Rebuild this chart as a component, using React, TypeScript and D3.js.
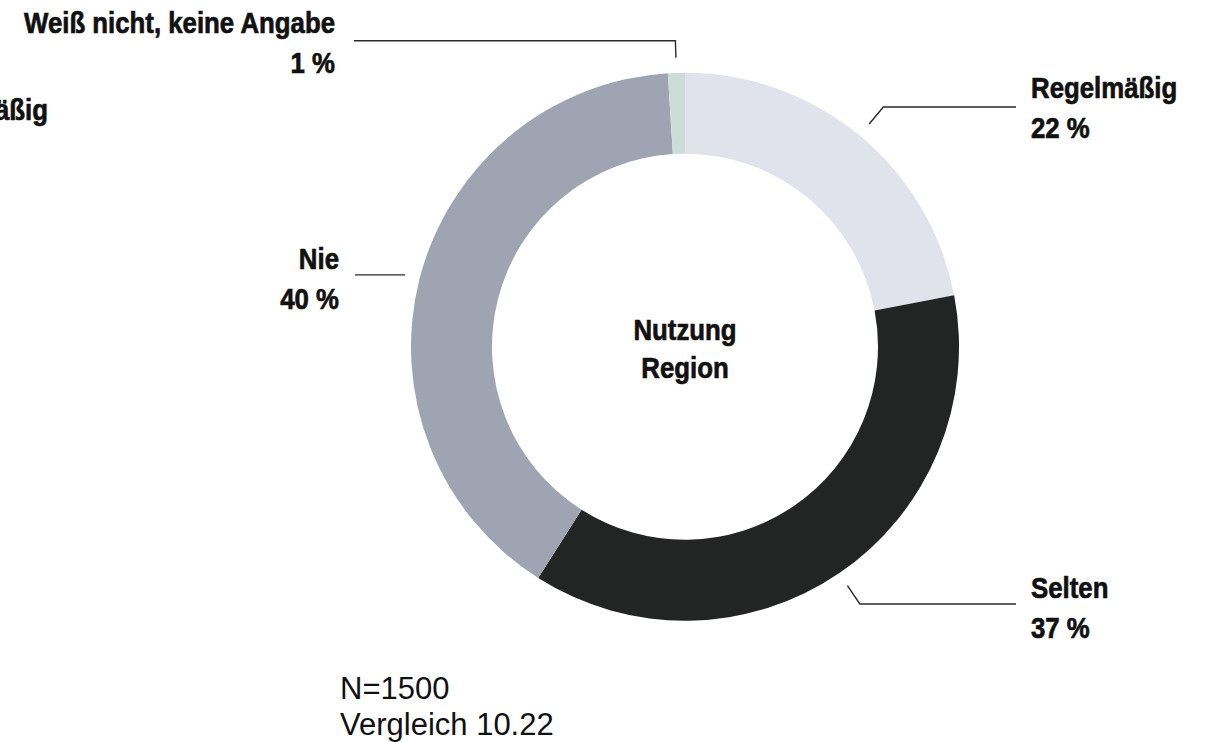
import React from "react";
import * as d3 from "d3";

// ---- data ----
const categories = ["Regelmäßig", "Selten", "Nie", "Weiß nicht, keine Angabe"];
const values = [22, 37, 40, 1];
const valueLabels = ["22 %", "37 %", "40 %", "1 %"];
const centerTitle = ["Nutzung", "Region"];
const footnotes = ["N=1500", "Vergleich 10.22"];
const clippedLabel = "Regelmäßig";

// ---- styles / layout ----
const colors = ["#e0e2ec", "#232524", "#9ea4b2", "#cddcd9"];
const W = 1207;
const H = 742;
const cx = 685;
const cy = 346.7;
const outerR = 274;
const innerR = 193;
const boldFont = "'Liberation Sans', Arial, sans-serif";
const squeeze = 0.86;
// per-label layout: leader line y, leader end x, text anchor x, first baseline, side
const labelLayout = [
  { lineY: 107, endX: 1016, tx: 1031, ty: 98, anchor: "start" },
  { lineY: 604, endX: 1016, tx: 1031, ty: 598, anchor: "start" },
  { lineY: null, endX: 355, tx: 339, ty: 269, anchor: "end" },
  { lineY: 40.7, endX: 354, tx: 335, ty: 33, anchor: "end" },
];
const lineGap = 40;

function BoldText({ x, y, anchor, children, size = 30 }: any) {
  return (
    <text
      transform={`translate(${x},${y}) scale(${squeeze},1)`}
      textAnchor={anchor}
      fontFamily={boldFont}
      fontWeight="bold"
      fontSize={size}
      fill="#111"
      stroke="#111"
      strokeWidth={0.7}
    >
      {children}
    </text>
  );
}

export default function App() {
  const pie = d3
    .pie<number>()
    .sort(null)
    .value((d) => d)
    .startAngle(0)
    .endAngle(2 * Math.PI);
  const arcs = pie(values);
  const arcGen = d3.arc<d3.PieArcDatum<number>>().innerRadius(innerR).outerRadius(outerR);

  const leaders = arcs.map((a, i) => {
    const mid = (a.startAngle + a.endAngle) / 2;
    const r0 = outerR + 15;
    const sx = cx + r0 * Math.sin(mid);
    const sy = cy - r0 * Math.cos(mid);
    const L = labelLayout[i];
    const path = d3.path();
    path.moveTo(sx, sy);
    if (L.lineY == null) {
      path.lineTo(L.endX, sy);
    } else {
      const t = (cy - L.lineY) / Math.cos(mid);
      const ex = cx + t * Math.sin(mid);
      path.lineTo(ex, L.lineY);
      path.lineTo(L.endX, L.lineY);
    }
    return path.toString();
  });

  return (
    <svg
      width={W}
      height={H}
      style={{ position: "absolute", left: 0, top: 0, background: "#fff" }}
    >
      <g transform={`translate(${cx},${cy})`}>
        {arcs.map((a, i) => (
          <path key={i} d={arcGen(a) || ""} fill={colors[i]} />
        ))}
      </g>
      {leaders.map((d, i) => (
        <path key={i} d={d} fill="none" stroke="#2a2a2a" strokeWidth={1.4} />
      ))}
      {categories.map((c, i) => {
        const L = labelLayout[i];
        return (
          <g key={c}>
            <BoldText x={L.tx} y={L.ty} anchor={L.anchor}>
              {c}
            </BoldText>
            <BoldText x={L.tx} y={L.ty + lineGap} anchor={L.anchor}>
              {valueLabels[i]}
            </BoldText>
          </g>
        );
      })}
      <BoldText x={cx} y={340} anchor="middle">
        {centerTitle[0]}
      </BoldText>
      <BoldText x={cx} y={378} anchor="middle">
        {centerTitle[1]}
      </BoldText>
      <BoldText x={48} y={120} anchor="end">
        {clippedLabel}
      </BoldText>
      {footnotes.map((f, i) => (
        <text
          key={f}
          x={340}
          y={699 + i * 36}
          fontFamily="'Liberation Sans', Arial, sans-serif"
          fontSize={31}
          fill="#111"
        >
          {f}
        </text>
      ))}
    </svg>
  );
}
